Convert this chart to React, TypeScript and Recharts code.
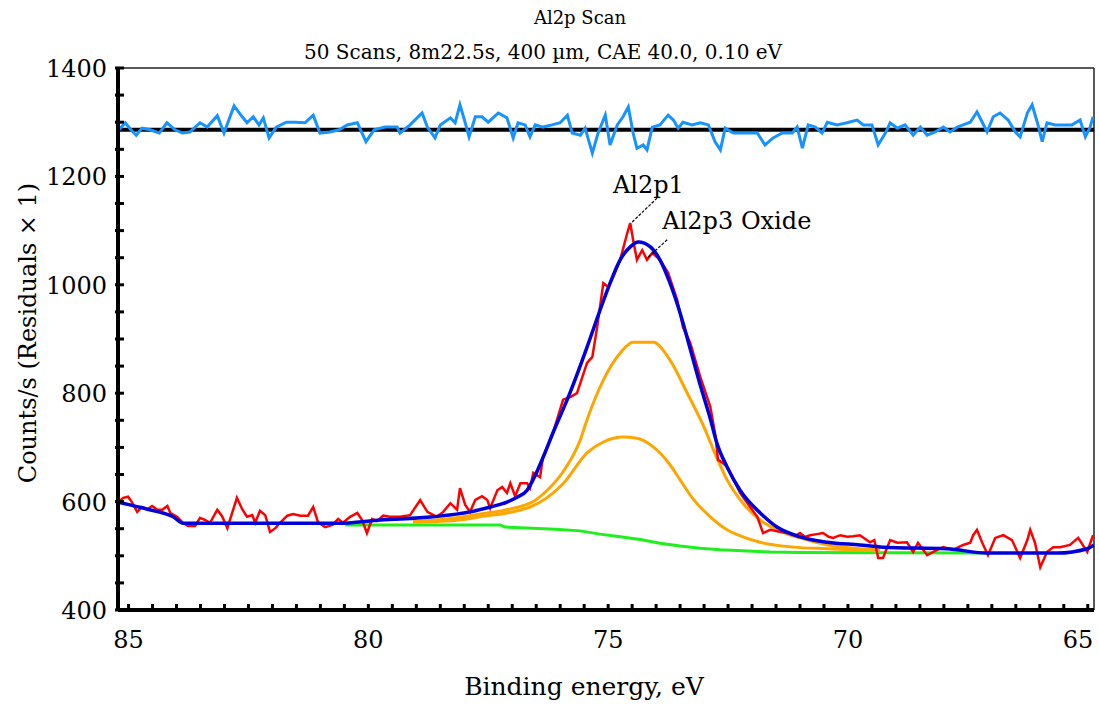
import React from 'react';
import { LineChart, Line, XAxis, YAxis, ReferenceLine, ReferenceDot } from 'recharts';

const FONT = "'DejaVu Serif', 'Liberation Serif', serif";

// measured spectrum, [binding energy eV, counts/s]
const rawSpectrum: [number, number][] = [
  [85.22, 599], [85.11, 607], [85.01, 609], [84.93, 599], [84.82, 581], [84.72, 590], [84.61, 586], [84.51, 592],
  [84.40, 585], [84.30, 585], [84.19, 592], [84.13, 579], [83.99, 572], [83.88, 562], [83.76, 555], [83.61, 555],
  [83.51, 570], [83.40, 566], [83.30, 561], [83.15, 585], [83.05, 573], [82.94, 551], [82.84, 579], [82.74, 607],
  [82.63, 586], [82.53, 572], [82.42, 575], [82.36, 561], [82.26, 583], [82.15, 575], [82.05, 544], [81.94, 551],
  [81.84, 561], [81.69, 574], [81.57, 577], [81.42, 574], [81.26, 574], [81.15, 590], [81.05, 562], [80.90, 553],
  [80.75, 557], [80.63, 568], [80.53, 561], [80.38, 572], [80.23, 579], [80.13, 566], [80.03, 542], [79.92, 568],
  [79.82, 564], [79.69, 574], [79.55, 572], [79.34, 572], [79.13, 575], [78.92, 603], [78.77, 581], [78.57, 572],
  [78.44, 581], [78.29, 597], [78.15, 585], [78.09, 625], [77.98, 594], [77.88, 581], [77.77, 603], [77.63, 610],
  [77.52, 603], [77.46, 588], [77.31, 621], [77.21, 627], [77.11, 616], [77.04, 634], [76.94, 610], [76.83, 634],
  [76.69, 634], [76.63, 625], [76.56, 653], [76.42, 645], [76.36, 682], [76.15, 727], [75.94, 788], [75.79, 793],
  [75.65, 800], [75.44, 856], [75.33, 867], [75.23, 922], [75.10, 1003], [75.00, 996], [74.90, 1014], [74.75, 1046],
  [74.60, 1096], [74.54, 1114], [74.48, 1083], [74.40, 1046], [74.29, 1064], [74.19, 1046], [74.08, 1059], [73.92, 1046],
  [73.75, 1022], [73.56, 972], [73.44, 922], [73.29, 893], [73.08, 830], [72.87, 775], [72.76, 720], [72.71, 677],
  [72.62, 672], [72.52, 664], [72.38, 640], [72.25, 616], [72.04, 590], [71.89, 572], [71.77, 542], [71.62, 548],
  [71.45, 545], [71.27, 542], [71.10, 537], [71.00, 542], [70.90, 535], [70.79, 538], [70.65, 540], [70.52, 542],
  [70.40, 535], [70.31, 533], [70.16, 538], [70.02, 535], [69.89, 536], [69.75, 538], [69.54, 525], [69.45, 529],
  [69.37, 496], [69.27, 496], [69.12, 529], [68.97, 524], [68.77, 525], [68.64, 507], [68.54, 524], [68.35, 501],
  [68.14, 511], [68.01, 516], [67.81, 511], [67.60, 520], [67.45, 524], [67.39, 538], [67.31, 548], [67.20, 524],
  [67.08, 501], [66.93, 533], [66.76, 538], [66.58, 529], [66.41, 496], [66.26, 529], [66.20, 548], [66.10, 524],
  [65.99, 479], [65.85, 507], [65.72, 516], [65.58, 516], [65.37, 520], [65.20, 533], [65.01, 507], [64.89, 538],
];

// fitted envelope (blue)
const envelope: [number, number][] = [
  [85.22, 599], [84.97, 594], [84.61, 586], [84.28, 579], [84.07, 572], [83.86, 560], [80.65, 560], [79.75, 566],
  [78.65, 572], [77.88, 581], [77.46, 590], [77.11, 599], [76.90, 608], [76.69, 621], [76.55, 643], [76.35, 683],
  [76.15, 727], [75.79, 802], [75.44, 885], [75.17, 953], [74.96, 1003], [74.75, 1046], [74.54, 1070], [74.37, 1079],
  [74.12, 1070], [73.92, 1046], [73.71, 1003], [73.50, 948], [73.29, 882], [73.08, 815], [72.87, 753], [72.73, 707],
  [72.52, 664], [72.25, 621], [71.83, 579], [71.48, 553], [71.00, 535], [70.43, 525], [69.75, 520], [69.27, 516],
  [67.93, 513], [67.10, 505], [65.64, 505], [65.01, 513], [64.87, 520],
];

// component peaks (orange)
const peakAl2p1: [number, number][] = [
  [79.07, 564], [78.36, 568], [77.67, 577], [76.63, 597], [76.27, 621], [75.94, 655], [75.58, 714], [75.44, 751],
  [75.10, 824], [74.75, 874], [74.48, 894], [74.06, 894], [73.71, 861], [73.35, 800], [73.02, 741], [72.73, 680],
  [72.52, 640], [72.19, 597], [71.83, 566], [71.48, 548], [71.00, 533], [70.43, 520], [69.33, 511],
];

const peakOxide: [number, number][] = [
  [79.07, 562], [78.36, 564], [77.67, 572], [76.63, 590], [75.94, 633], [75.44, 690], [75.10, 710], [74.69, 719],
  [74.40, 717], [74.06, 701], [73.71, 668], [73.50, 640], [73.23, 605], [72.87, 572], [72.52, 548], [72.19, 535],
  [71.83, 525], [71.14, 516], [70.43, 513], [69.33, 509],
];

// background (green)
const background: [number, number][] = [
  [80.48, 557], [77.25, 557], [77.15, 553], [76.10, 549], [75.58, 546], [75.17, 540], [74.75, 535], [74.33, 530],
  [73.92, 523], [73.50, 518], [73.08, 514], [72.66, 511], [71.62, 507], [70.99, 506], [67.14, 505],
];

// residuals, drawn around an offset of 1286 (light blue)
const RESIDUAL_ZERO = 1286;
const residuals: [number, number][] = [
  [85.20, 1286], [85.07, 1299], [84.95, 1286], [84.84, 1276], [84.72, 1289], [84.55, 1286], [84.36, 1280], [84.20, 1299],
  [84.03, 1286], [83.88, 1280], [83.72, 1282], [83.51, 1299], [83.36, 1291], [83.15, 1312], [83.01, 1280], [82.80, 1330],
  [82.63, 1310], [82.53, 1299], [82.40, 1310], [82.28, 1295], [82.19, 1308], [82.07, 1271], [81.92, 1291], [81.71, 1300],
  [81.53, 1300], [81.32, 1299], [81.15, 1313], [81.01, 1280], [80.80, 1282], [80.61, 1286], [80.44, 1295], [80.23, 1299],
  [80.05, 1264], [79.88, 1286], [79.65, 1291], [79.40, 1291], [79.34, 1280], [79.13, 1295], [78.88, 1317], [78.77, 1291],
  [78.61, 1271], [78.50, 1295], [78.29, 1308], [78.19, 1299], [78.09, 1332], [77.98, 1299], [77.90, 1273], [77.77, 1310],
  [77.63, 1310], [77.50, 1300], [77.29, 1317], [77.11, 1308], [76.98, 1271], [76.88, 1299], [76.73, 1295], [76.63, 1273],
  [76.52, 1295], [76.36, 1291], [76.17, 1295], [76.00, 1299], [75.85, 1313], [75.75, 1280], [75.58, 1276], [75.48, 1289],
  [75.33, 1243], [75.21, 1280], [75.06, 1313], [74.96, 1258], [74.81, 1295], [74.69, 1310], [74.58, 1328], [74.48, 1280],
  [74.40, 1252], [74.27, 1258], [74.19, 1249], [74.08, 1291], [73.92, 1295], [73.75, 1313], [73.64, 1304], [73.54, 1289],
  [73.44, 1300], [73.25, 1295], [73.08, 1299], [72.91, 1295], [72.77, 1264], [72.66, 1249], [72.56, 1289], [72.39, 1280],
  [72.10, 1280], [71.89, 1280], [71.73, 1258], [71.56, 1271], [71.37, 1280], [71.16, 1280], [71.06, 1291], [70.95, 1252],
  [70.83, 1295], [70.68, 1291], [70.54, 1280], [70.43, 1300], [70.23, 1295], [70.02, 1299], [69.81, 1304], [69.68, 1295],
  [69.50, 1295], [69.37, 1258], [69.22, 1280], [69.12, 1299], [68.97, 1289], [68.81, 1295], [68.64, 1276], [68.49, 1291],
  [68.35, 1276], [68.18, 1282], [68.01, 1291], [67.87, 1282], [67.72, 1291], [67.60, 1295], [67.45, 1300], [67.31, 1319],
  [67.20, 1300], [67.10, 1282], [66.97, 1310], [66.83, 1317], [66.66, 1304], [66.51, 1282], [66.41, 1273], [66.26, 1317],
  [66.16, 1332], [66.05, 1299], [65.95, 1264], [65.85, 1299], [65.68, 1295], [65.51, 1295], [65.33, 1295], [65.16, 1304],
  [65.05, 1273], [64.95, 1291], [64.89, 1310],
];

const X_MIN = 64.87;
const X_MAX = 85.22;
const xTicks = Array.from({ length: 41 }, (_, i) => 65 + i * 0.5);
const yTicks = Array.from({ length: 21 }, (_, i) => 400 + i * 50);

const toRows = (pts: [number, number][]) => pts.map(([e, c]) => ({ e, c }));

const XTick = ({ x, y, payload }: any) => {
  const v = payload.value;
  const major = Math.abs(v % 5) < 1e-6;
  return (
    <g>
      <line x1={x} x2={x} y1={y - 6} y2={y + 2} stroke="#000" strokeWidth={3} />
      {major && (
        <text x={Math.min(x, 1078)} y={y + 38} textAnchor="middle" fontSize={24} fontFamily={FONT} fill="#000">
          {v}
        </text>
      )}
    </g>
  );
};

const YTick = ({ x, y, payload }: any) => {
  const v = payload.value;
  const major = v % 200 === 0;
  return (
    <g>
      <line x1={x - 3} x2={x + 6} y1={y} y2={y} stroke="#000" strokeWidth={3} />
      {major && (
        <text x={x - 11} y={y + 9} textAnchor="end" fontSize={24} fontFamily={FONT} fill="#000">
          {v}
        </text>
      )}
    </g>
  );
};

const labelShape = (text: string) => (p: any) => (
  <text x={p.cx} y={p.cy} fontSize={24} fontFamily={FONT} fill="#000">
    {text}
  </text>
);

export default function App() {
  return (
    <div style={{ position: 'absolute', left: 0, top: 0, width: 1099, height: 706, background: '#fff' }}>
      <div style={{ position: 'absolute', left: 580, top: 18, transform: 'translate(-50%, -50%)', whiteSpace: 'nowrap', fontFamily: FONT, fontSize: 18, lineHeight: 1 }}>
        Al2p Scan
      </div>
      <div style={{ position: 'absolute', left: 543, top: 52, transform: 'translate(-50%, -50%)', whiteSpace: 'nowrap', fontFamily: FONT, fontSize: 20, lineHeight: 1 }}>
        50 Scans, 8m22.5s, 400 µm, CAE 40.0, 0.10 eV
      </div>
      <div style={{ position: 'absolute', left: 584, top: 686, transform: 'translate(-50%, -50%)', whiteSpace: 'nowrap', fontFamily: FONT, fontSize: 25, lineHeight: 1 }}>
        Binding energy, eV
      </div>
      <div style={{ position: 'absolute', left: 28, top: 333, transform: 'translate(-50%, -50%) rotate(-90deg)', whiteSpace: 'nowrap', fontFamily: FONT, fontSize: 24, lineHeight: 1 }}>
        Counts/s (Residuals × 1)
      </div>

      <LineChart width={1099} height={706} margin={{ top: 68, right: 5, bottom: 0, left: 0 }}>
        <XAxis
          type="number"
          dataKey="e"
          domain={[X_MIN, X_MAX]}
          reversed
          allowDataOverflow
          ticks={xTicks}
          interval={0}
          height={96}
          tickSize={0}
          tickMargin={0}
          tickLine={false}
          axisLine={{ stroke: '#000', strokeWidth: 4 }}
          tick={<XTick />}
        />
        <YAxis
          type="number"
          dataKey="c"
          domain={[400, 1400]}
          allowDataOverflow
          ticks={yTicks}
          interval={0}
          width={118}
          tickSize={0}
          tickMargin={0}
          tickLine={false}
          axisLine={{ stroke: '#000', strokeWidth: 4 }}
          tick={<YTick />}
        />
        <ReferenceLine y={1400} stroke="#222" strokeWidth={1.5} />
        <ReferenceLine x={X_MIN} stroke="#222" strokeWidth={1.5} />

        <ReferenceLine y={RESIDUAL_ZERO} stroke="#000" strokeWidth={4} />
        <Line data={toRows(residuals)} dataKey="c" stroke="#1793ff" strokeWidth={3} dot={false} isAnimationActive={false} />
        <Line data={toRows(background)} dataKey="c" stroke="#1ef01e" strokeWidth={3} dot={false} isAnimationActive={false} />
        <Line type="monotone" data={toRows(peakOxide)} dataKey="c" stroke="#ffa500" strokeWidth={3} dot={false} isAnimationActive={false} />
        <Line type="monotone" data={toRows(peakAl2p1)} dataKey="c" stroke="#ffa500" strokeWidth={3} dot={false} isAnimationActive={false} />
        <Line data={toRows(rawSpectrum)} dataKey="c" stroke="#ff0000" strokeWidth={2.5} dot={false} isAnimationActive={false} />
        <Line type="monotone" data={toRows(envelope)} dataKey="c" stroke="#0000dd" strokeWidth={3.5} dot={false} isAnimationActive={false} />

        <ReferenceLine segment={[{ x: 73.98, y: 1160 }, { x: 74.52, y: 1114 }]} stroke="#000" strokeWidth={1.2} strokeDasharray="3 1.5" />
        <ReferenceLine segment={[{ x: 73.77, y: 1083 }, { x: 74.19, y: 1049 }]} stroke="#000" strokeWidth={1.2} strokeDasharray="3 1.5" />
        <ReferenceDot x={74.9} y={1169} r={0} shape={labelShape('Al2p1')} />
        <ReferenceDot x={73.87} y={1103} r={0} shape={labelShape('Al2p3 Oxide')} />
      </LineChart>
    </div>
  );
}
